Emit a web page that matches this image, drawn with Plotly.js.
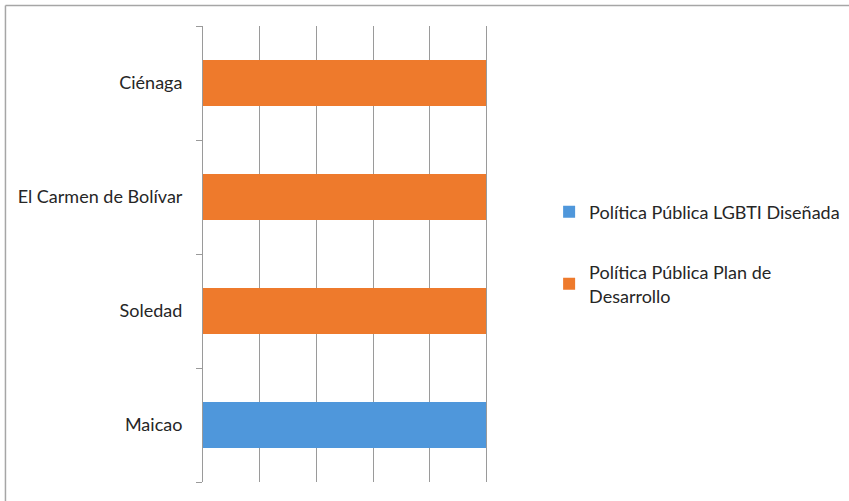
<!DOCTYPE html>
<html>
<head>
<meta charset="utf-8">
<script src="https://cdn.plot.ly/plotly-3.0.1.min.js"></script>
<style>html,body{margin:0;padding:0;background:#fff;}#chart{width:849px;height:501px;}</style>
</head>
<body>
<div id="chart"></div>
<script>
const categories = ["Maicao", "Soledad", "El Carmen de Bolívar", "Ciénaga"];
const seriesNames = ["Política Pública LGBTI Diseñada", "Política Pública Plan de<br>Desarrollo"];
const lgbtiValues = [1, 0, 0, 0];
const planValues = [0, 1, 1, 1];
const xTickValues = [0, 0.2, 0.4, 0.6, 0.8, 1.0, 1.2];

const FONT = "Lato, 'Open Sans', sans-serif";
const TEXT = "#262626";

const traces = [
  {
    type: "bar", orientation: "h",
    y: categories, x: lgbtiValues,
    name: seriesNames[0], legendgroup: "a",
    marker: { color: "#4F97DB" },
    hoverinfo: "x+y+name"
  },
  {
    type: "bar", orientation: "h",
    y: categories, x: planValues,
    name: seriesNames[1], legendgroup: "b",
    marker: { color: "#EE7A2C" },
    hoverinfo: "x+y+name"
  }
];

const layout = {
  width: 849, height: 501,
  margin: { l: 203, r: 306, t: 26, b: 19, pad: 0, autoexpand: false },
  paper_bgcolor: "#ffffff",
  plot_bgcolor: "#ffffff",
  font: { family: FONT, size: 18, color: TEXT },
  barmode: "stack",
  bargap: 0.6,
  showlegend: true,
  legend: {
    x: 1.018, xanchor: "left", y: 0.5, yanchor: "middle",
    traceorder: "grouped", tracegroupgap: 34,
    font: { family: FONT, size: 18, color: TEXT }
  },
  xaxis: {
    range: [0, 1.2],
    tickvals: xTickValues,
    showticklabels: false,
    showgrid: true, gridcolor: "#9a9a9a", gridwidth: 1,
    zeroline: false, showline: false, ticks: "",
    fixedrange: true
  },
  yaxis: {
    type: "category",
    categoryorder: "array", categoryarray: categories,
    showline: true, linecolor: "#9a9a9a", linewidth: 1,
    ticks: "outside", ticklen: 6, tickcolor: "#9a9a9a", tickwidth: 1,
    tickson: "boundaries",
    ticklabelstandoff: 16,
    showgrid: false, zeroline: false,
    tickfont: { family: FONT, size: 18, color: TEXT },
    fixedrange: true
  },
  shapes: [
    { type: "line", xref: "paper", yref: "paper", x0: -0.581, x1: 2.0, y0: 1.045, y1: 1.045,
      line: { color: "#a6a6a6", width: 1.5 } },
    { type: "line", xref: "paper", yref: "paper", x0: -0.581, x1: -0.581, y0: 1.045, y1: -0.2,
      line: { color: "#a6a6a6", width: 1.5 } }
  ]
};

Plotly.newPlot("chart", traces, layout, { displayModeBar: false, staticPlot: true });
</script>
</body>
</html>
